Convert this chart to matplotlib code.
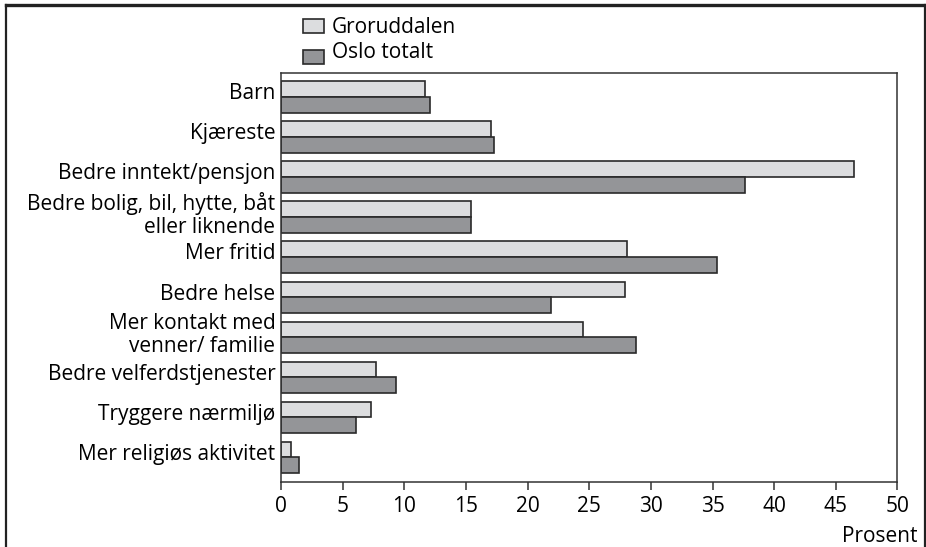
import matplotlib
matplotlib.use('Agg')
import matplotlib.pyplot as plt
from matplotlib.lines import Line2D
from matplotlib.patches import Rectangle
import numpy as np

plt.rcParams['font.family'] = ['Open Sans', 'DejaVu Sans']

categories = ["Barn", "Kjæreste", "Bedre inntekt/pensjon",
              "Bedre bolig, bil, hytte, båt\neller liknende", "Mer fritid",
              "Bedre helse", "Mer kontakt med\nvenner/ familie",
              "Bedre velferdstjenester", "Tryggere nærmiljø", "Mer religiøs aktivitet"]
groruddalen = [11.7, 17.0, 46.5, 15.4, 28.1, 27.9, 24.5, 7.7, 7.3, 0.8]
oslo_totalt = [12.1, 17.3, 37.6, 15.4, 35.4, 21.9, 28.8, 9.3, 6.1, 1.5]
series = ["Groruddalen", "Oslo totalt"]
xticks = [0, 5, 10, 15, 20, 25, 30, 35, 40, 45, 50]

LIGHT = '#dcdddf'
DARK = '#949598'
EDGE = '#2a2a2a'
FS = 15

W, H = 926, 547
fig = plt.figure(figsize=(W/100, H/100), dpi=100)
ax = fig.add_axes([281/W, 1-482/H, 616.5/W, 409/H])

y = np.arange(len(categories))
h = 0.39
ax.barh(y - h/2, groruddalen, height=h, color=LIGHT, edgecolor=EDGE, linewidth=1.2)
ax.barh(y + h/2, oslo_totalt, height=h, color=DARK, edgecolor=EDGE, linewidth=1.2)

ax.set_xlim(0, 50)
ax.set_ylim(len(categories) - 1 + 0.62, -0.6)
ax.set_xticks(xticks)
ax.set_yticks(y - 0.14)
ax.set_yticklabels(categories, fontsize=FS, ha='right', linespacing=1.1)
ax.tick_params(axis='y', length=0, pad=4)
ax.tick_params(axis='x', length=6, width=1.1, color='#333333', labelsize=FS, pad=4)
for s in ax.spines.values():
    s.set_color('#333333'); s.set_linewidth(1.1)

fig.text(917/W, 1-542/H, 'Prosent', ha='right', va='baseline', fontsize=FS)

# legende (tegnet manuelt for å treffe plasseringen)
for col, label, box_top, base in [(LIGHT, series[0], 19, 33), (DARK, series[1], 50, 58)]:
    fig.add_artist(Rectangle((303/W, 1-(box_top+14)/H), 21/W, 14/H, transform=fig.transFigure,
                             facecolor=col, edgecolor=EDGE, linewidth=1.2))
    fig.text(332/W, 1-base/H, label, ha='left', va='baseline', fontsize=FS)

# ytre ramme
fig.add_artist(Line2D([6/W, 6/W], [0, 1-5/H], color='#222222', lw=1.6))
fig.add_artist(Line2D([925/W, 925/W], [0, 1-5/H], color='#222222', lw=1.6))
fig.add_artist(Line2D([6/W, 1], [1-5/H, 1-5/H], color='#222222', lw=2.4))

plt.savefig('out.png', dpi=100)
